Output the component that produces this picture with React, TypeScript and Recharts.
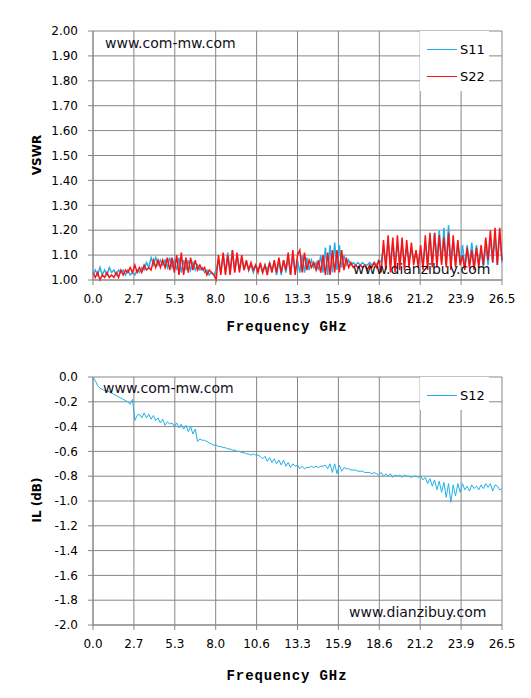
import { LineChart, Line, XAxis, YAxis, CartesianGrid } from 'recharts';

// sweep 0 - 26.5 GHz, 177 points
const FREQ_TICKS = [0, 2.65, 5.3, 7.95, 10.6, 13.25, 15.9, 18.55, 21.2, 23.85, 26.5];
const FREQ_LABELS = ['0.0', '2.7', '5.3', '8.0', '10.6', '13.3', '15.9', '18.6', '21.2', '23.9', '26.5'];
const VSWR_TICKS = [1.0, 1.1, 1.2, 1.3, 1.4, 1.5, 1.6, 1.7, 1.8, 1.9, 2.0];
const IL_TICKS = [-2.0, -1.8, -1.6, -1.4, -1.2, -1.0, -0.8, -0.6, -0.4, -0.2, 0.0];

const S11 = [
  1.02, 1.04, 1.02, 1.05, 1.02, 1.04, 1.02, 1.05, 1.03, 1.04, 1.02, 1.04, 1.03, 1.04, 1.02, 1.04, 1.02, 1.03,
  1.02, 1.04, 1.03, 1.05, 1.04, 1.07, 1.05, 1.09, 1.06, 1.09, 1.06, 1.08, 1.06, 1.08, 1.05, 1.09, 1.05, 1.08,
  1.04, 1.09, 1.03, 1.08, 1.04, 1.08, 1.04, 1.07, 1.04, 1.06, 1.04, 1.05, 1.03, 1.04, 1.02, 1.03, 1.02,
  1.04, 1.08, 1.03, 1.10, 1.03, 1.11, 1.03, 1.12, 1.03, 1.10, 1.04, 1.09, 1.04, 1.07, 1.04, 1.06, 1.03, 1.06,
  1.04, 1.06, 1.03, 1.06, 1.04, 1.07, 1.04, 1.07, 1.02, 1.08, 1.02, 1.08, 1.03, 1.09, 1.02, 1.10, 1.03, 1.08,
  1.03, 1.10, 1.03, 1.09, 1.04, 1.08, 1.05, 1.07, 1.04, 1.10, 1.03, 1.13, 1.02, 1.14, 1.03, 1.15, 1.04,
  1.14, 1.05, 1.10, 1.06, 1.08, 1.06, 1.07, 1.06, 1.07, 1.06, 1.07, 1.06, 1.06, 1.07, 1.06, 1.07, 1.06, 1.08,
  1.07, 1.13, 1.07, 1.15, 1.08, 1.15, 1.07, 1.14, 1.08, 1.14, 1.07, 1.13, 1.08, 1.12, 1.09, 1.10, 1.08,
  1.11, 1.06, 1.15, 1.07, 1.18, 1.06, 1.19, 1.08, 1.20, 1.07, 1.21, 1.06, 1.22, 1.07, 1.16, 1.06, 1.15, 1.07,
  1.14, 1.05, 1.14, 1.06, 1.15, 1.05, 1.14, 1.06, 1.12, 1.05, 1.14, 1.06, 1.17, 1.07, 1.18, 1.06, 1.19, 1.07,
];

const S22 = [
  1.03, 1.01, 1.03, 1.00, 1.02, 1.01, 1.03, 1.01, 1.02, 1.01, 1.03, 1.01, 1.04, 1.02, 1.04, 1.03, 1.05, 1.03,
  1.06, 1.03, 1.05, 1.03, 1.06, 1.04, 1.05, 1.04, 1.08, 1.05, 1.08, 1.05, 1.08, 1.05, 1.09, 1.04, 1.09, 1.03,
  1.10, 1.02, 1.11, 1.02, 1.09, 1.03, 1.09, 1.04, 1.08, 1.04, 1.06, 1.04, 1.05, 1.02, 1.04, 1.03, 1.02,
  1.00, 1.10, 1.02, 1.11, 1.02, 1.10, 1.02, 1.12, 1.03, 1.11, 1.03, 1.10, 1.04, 1.08, 1.04, 1.07, 1.04, 1.06,
  1.03, 1.07, 1.03, 1.06, 1.02, 1.07, 1.03, 1.08, 1.03, 1.09, 1.03, 1.08, 1.04, 1.11, 1.02, 1.12, 1.02, 1.10,
  1.12, 1.03, 1.11, 1.04, 1.08, 1.05, 1.07, 1.04, 1.08, 1.03, 1.10, 1.02, 1.11, 1.02, 1.12, 1.03, 1.12,
  1.03, 1.12, 1.04, 1.09, 1.05, 1.07, 1.05, 1.06, 1.05, 1.06, 1.05, 1.06, 1.04, 1.06, 1.05, 1.07, 1.05, 1.08,
  1.03, 1.16, 1.04, 1.18, 1.03, 1.17, 1.03, 1.18, 1.04, 1.17, 1.04, 1.16, 1.05, 1.15, 1.06, 1.12, 1.05,
  1.14, 1.04, 1.18, 1.04, 1.19, 1.05, 1.19, 1.05, 1.18, 1.06, 1.17, 1.05, 1.19, 1.04, 1.18, 1.05, 1.16, 1.06,
  1.10, 1.04, 1.13, 1.05, 1.12, 1.04, 1.13, 1.05, 1.14, 1.06, 1.17, 1.08, 1.20, 1.07, 1.21, 1.06, 1.21, 1.08,
];

const S12 = [
  0.0, -0.03, -0.07, -0.09, -0.10, -0.11, -0.11, -0.12, -0.13, -0.14, -0.15, -0.16, -0.17, -0.18, -0.19, -0.20, -0.22, -0.18,
  -0.35, -0.31, -0.30, -0.33, -0.29, -0.33, -0.30, -0.34, -0.31, -0.35, -0.33, -0.37, -0.34, -0.39, -0.36, -0.38, -0.37, -0.40,
  -0.37, -0.41, -0.38, -0.42, -0.39, -0.44, -0.40, -0.46, -0.42, -0.52, -0.50, -0.51, -0.51, -0.52, -0.53, -0.54, -0.55,
  -0.55, -0.56, -0.56, -0.57, -0.57, -0.58, -0.58, -0.59, -0.59, -0.60, -0.60, -0.61, -0.61, -0.62, -0.62, -0.63, -0.62, -0.63,
  -0.63, -0.64, -0.66, -0.64, -0.68, -0.65, -0.69, -0.66, -0.70, -0.67, -0.71, -0.67, -0.72, -0.69, -0.73, -0.70, -0.72, -0.71,
  -0.74, -0.72, -0.74, -0.73, -0.73, -0.72, -0.73, -0.72, -0.73, -0.72, -0.72, -0.71, -0.74, -0.70, -0.77, -0.70, -0.78,
  -0.71, -0.76, -0.73, -0.74, -0.74, -0.75, -0.75, -0.75, -0.76, -0.76, -0.76, -0.77, -0.77, -0.77, -0.78, -0.77, -0.78, -0.79,
  -0.77, -0.80, -0.78, -0.80, -0.78, -0.81, -0.79, -0.80, -0.79, -0.81, -0.79, -0.80, -0.80, -0.81, -0.80, -0.80, -0.81,
  -0.80, -0.83, -0.81, -0.86, -0.82, -0.88, -0.83, -0.91, -0.84, -0.93, -0.85, -0.97, -0.86, -1.01, -0.87, -0.96, -0.86, -0.93,
  -0.86, -0.91, -0.88, -0.92, -0.87, -0.90, -0.88, -0.91, -0.87, -0.90, -0.86, -0.89, -0.86, -0.92, -0.87, -0.88, -0.91, -0.90,
];

const BLUE = '#1fb2ea';
const RED = '#ff1010';
const GRID = '#868686';
const TICK_FONT = { fontFamily: 'DejaVu Sans', fontSize: 12, fill: '#000' };

const topData = S11.map((v, i) => ({ freq: (i * 26.5) / (S11.length - 1), S11: v, S22: S22[i] }));
const bottomData = S12.map((v, i) => ({ freq: (i * 26.5) / (S12.length - 1), S12: v }));

const abs = (left: number, top: number, extra: any = {}) => ({ position: 'absolute' as const, left, top, ...extra });

const watermark = { fontFamily: 'DejaVu Sans', fontSize: 14, color: '#111122', whiteSpace: 'nowrap' as const, lineHeight: '16px' };
const freqTitle = {
  fontFamily: 'Liberation Mono', fontWeight: 700, fontSize: 14, letterSpacing: 0.9, color: '#000',
  whiteSpace: 'nowrap' as const, width: 200, textAlign: 'center' as const, lineHeight: '16px',
};
const yTitle = {
  fontFamily: 'DejaVu Sans', fontWeight: 700, fontSize: 12, color: '#000', whiteSpace: 'nowrap' as const,
  width: 100, textAlign: 'center' as const, lineHeight: '14px', transform: 'rotate(-90deg)',
};

function LegendBox({ top, items }: { top: number; items: { name: string; color: string }[] }) {
  return (
    <div style={abs(420, top, { width: 69, height: items.length * 27 + 6, background: '#fff' })}>
      {items.map((it, i) => (
        <div key={it.name} style={abs(7, 10 + i * 27, { display: 'flex', alignItems: 'center', height: 16 })}>
          <div style={{ width: 30, height: 0, borderTop: `1.5px solid ${it.color}` }} />
          <span style={{ marginLeft: 3, fontFamily: 'DejaVu Sans', fontSize: 13, color: '#000' }}>{it.name}</span>
        </div>
      ))}
    </div>
  );
}

function FreqAxis() {
  return (
    <XAxis
      dataKey="freq"
      type="number"
      domain={[0, 26.5]}
      ticks={FREQ_TICKS}
      interval={0}
      tickFormatter={(_v: number, i: number) => FREQ_LABELS[i]}
      tick={TICK_FONT}
      tickSize={5}
      tickMargin={9}
      height={30}
      axisLine={{ stroke: GRID }}
      tickLine={{ stroke: GRID }}
    />
  );
}

export default function App() {
  return (
    <div style={abs(0, 0, { width: 531, height: 698, background: '#fff' })}>
      <div style={abs(0, 0)}>
        <LineChart width={531} height={345} data={topData} margin={{ top: 31, right: 29, bottom: 35, left: 33 }}>
          <CartesianGrid stroke={GRID} strokeWidth={1} />
          {FreqAxis()}
          <YAxis
            type="number"
            domain={[1, 2]}
            ticks={VSWR_TICKS}
            interval={0}
            tickFormatter={(v: number) => v.toFixed(2)}
            tick={TICK_FONT}
            tickSize={5}
            tickMargin={10}
            width={60}
            axisLine={{ stroke: GRID }}
            tickLine={{ stroke: GRID }}
          />
          <Line type="linear" dataKey="S11" stroke={BLUE} strokeWidth={1.5} dot={false} isAnimationActive={false} />
          <Line type="linear" dataKey="S22" stroke={RED} strokeWidth={1.5} dot={false} isAnimationActive={false} />
        </LineChart>
      </div>
      <div style={abs(105, 35, watermark)}>www.com-mw.com</div>
      <div style={abs(353, 261, watermark)}>www.dianzibuy.com</div>
      <LegendBox top={31} items={[{ name: 'S11', color: BLUE }, { name: 'S22', color: RED }]} />
      <div style={abs(-13, 148, yTitle)}>VSWR</div>
      <div style={abs(187, 319, freqTitle)}>Frequency GHz</div>

      <div style={abs(0, 346)}>
        <LineChart width={531} height={345} data={bottomData} margin={{ top: 31, right: 29, bottom: 36, left: 33 }}>
          <CartesianGrid stroke={GRID} strokeWidth={1} />
          {FreqAxis()}
          <YAxis
            type="number"
            domain={[-2, 0]}
            ticks={IL_TICKS}
            interval={0}
            tickFormatter={(v: number) => v.toFixed(1)}
            tick={TICK_FONT}
            tickSize={5}
            tickMargin={10}
            width={60}
            axisLine={{ stroke: GRID }}
            tickLine={{ stroke: GRID }}
          />
          <Line type="linear" dataKey="S12" stroke={BLUE} strokeWidth={1} dot={false} isAnimationActive={false} />
        </LineChart>
      </div>
      <div style={abs(103, 380, watermark)}>www.com-mw.com</div>
      <div style={abs(349, 604, watermark)}>www.dianzibuy.com</div>
      <LegendBox top={377} items={[{ name: 'S12', color: BLUE }]} />
      <div style={abs(-13, 493, yTitle)}>IL (dB)</div>
      <div style={abs(187, 668, freqTitle)}>Frequency GHz</div>
    </div>
  );
}
